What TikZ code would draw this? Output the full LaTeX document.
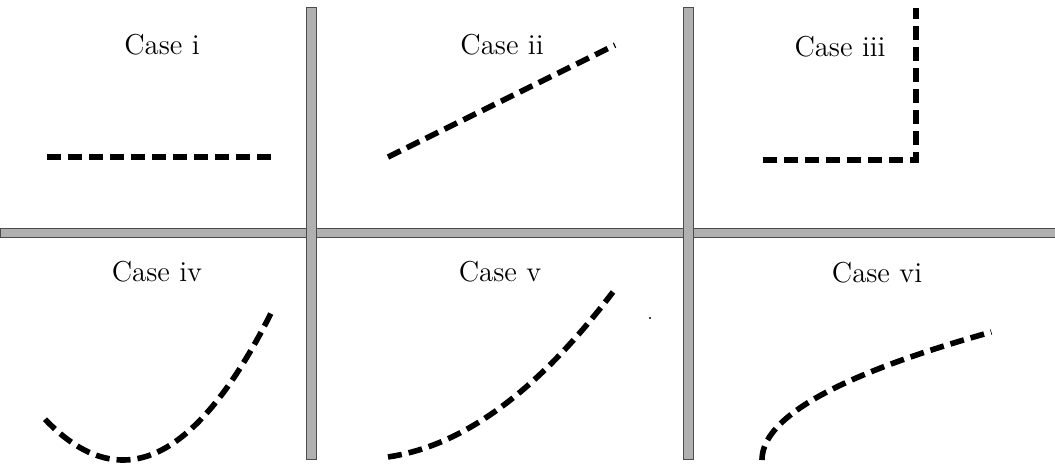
\documentclass[tikz,border=0pt]{standalone}
\usepackage{tikz}
\usetikzlibrary{positioning}

\begin{document}
\begin{tikzpicture}[x=0.5pt,y=-0.5pt,
  every node/.style={font=\fontsize{14.4}{17}\selectfont},
  bar/.style={fill=gray!62,draw=black!70,line width=0.4pt},
  curve/.style={line width=2.8pt,dash pattern=on 7pt off 3.5pt}]
  \useasboundingbox (0,0) rectangle (1055,468);
  % grey dividers between the cases
  \filldraw[bar] (0,228) rectangle (1055,237);
  \filldraw[bar] (306,7) rectangle (316,459);
  \filldraw[bar] (683,7) rectangle (693,459);
  % case labels
  \node (ci) at (162,45) {Case i};
  \node (cii) at (502,45) {Case ii};
  \node (ciii) at (840,47) {Case iii};
  \node (civ) at (157,272) {Case iv};
  \node (cv) at (500,272) {Case v};
  \node (cvi) at (877,273) {Case vi};
  % the six dashed curves
  \draw[curve] (47,157) -- (275,157);
  \draw[curve] (388,157) -- (615,45);
  \draw[curve] (763,160) -- (916,160) -- (916,8);
  \draw[curve,domain=45:273,smooth,samples=40] plot (\x,{460-0.67*((\x-123)/10)^2});
  \draw[curve,domain=388:613,smooth,samples=40] plot (\x,{459-0.261*((\x-360)/10)^2});
  \draw[curve,variable=\t,domain=0:128,smooth,samples=40] plot ({762+1.4*(\t/10)^2},{460-\t});
  \fill (650,318) circle (1.2);
\end{tikzpicture}
\end{document}
